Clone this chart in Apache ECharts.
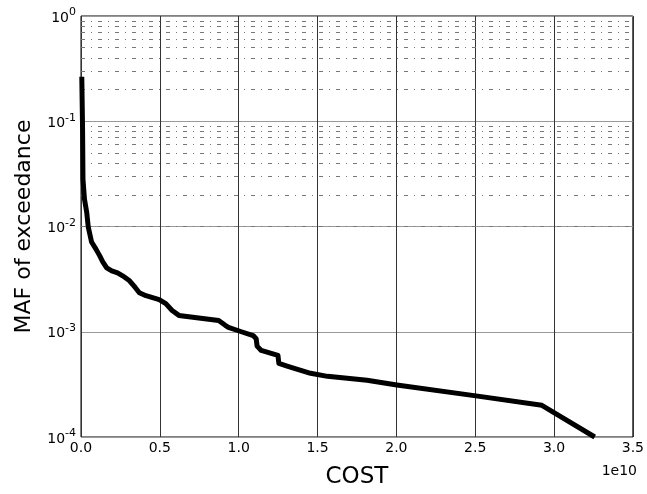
<!DOCTYPE html>
<html>
<head>
<meta charset="utf-8">
<script src="https://cdn.jsdelivr.net/npm/echarts@6/dist/echarts.min.js"></script>
<style>
  html, body { margin: 0; padding: 0; background: #fff; }
  #chart { width: 647px; height: 494px; }
</style>
</head>
<body>
<div id="chart"></div>
<script>
// cost in units of 1e10, MAF of exceedance
const cost = [0.005, 0.01, 0.0125, 0.022, 0.036, 0.046, 0.067, 0.094, 0.119, 0.138,
  0.163, 0.195, 0.232, 0.264, 0.308, 0.345, 0.37, 0.412, 0.496, 0.538,
  0.578, 0.621, 0.873, 0.915, 0.935, 1.017, 1.092, 1.111, 1.117, 1.143,
  1.249, 1.255, 1.312, 1.456, 1.563, 1.814, 2.003, 2.505, 2.923, 3.258];
const maf = [0.265, 0.0836, 0.0281, 0.0182, 0.0137, 0.00989, 0.00713, 0.00613, 0.00526, 0.00462,
  0.00405, 0.00379, 0.00363, 0.0034, 0.00305, 0.00262, 0.00235, 0.0022, 0.00202, 0.00185,
  0.00159, 0.00143, 0.00128, 0.00115, 0.0011, 0.001, 0.00092, 0.00086, 0.00073, 0.000665,
  0.000596, 0.0005, 0.000469, 0.000403, 0.000377, 0.000346, 0.000312, 0.000246, 0.0002, 0.0001];

const xTicks = [0, 0.5, 1.0, 1.5, 2.0, 2.5, 3.0, 3.5];
const decades = [1e-4, 1e-3, 1e-2, 1e-1];
const minorSteps = [2, 3, 4, 5, 6, 7, 8, 9];

const minorLines = [];
decades.forEach(d => minorSteps.forEach(m => minorLines.push({ yAxis: d * m })));

const chart = echarts.init(document.getElementById('chart'));
const font = 'DejaVu Sans';

chart.setOption({
  animation: false,
  backgroundColor: '#fff',
  grid: { left: 81, right: 9, top: 16, bottom: 55, show: true, borderColor: '#000', borderWidth: 1, backgroundColor: 'transparent' },
  xAxis: {
    type: 'value',
    min: 0, max: 3.5e10, interval: 0.5e10,
    name: 'COST', nameLocation: 'middle', nameGap: 29,
    nameTextStyle: { fontFamily: font, fontSize: 23, color: '#000' },
    axisLine: { show: false },
    axisTick: { show: false },
    axisLabel: { fontFamily: font, fontSize: 14, color: '#000', margin: 4,
      formatter: v => (v / 1e10).toFixed(1) },
    splitLine: { show: true, lineStyle: { color: '#333', width: 1 } }
  },
  yAxis: {
    type: 'log', logBase: 10, min: 1e-4, max: 1,
    name: 'MAF of exceedance', nameLocation: 'middle', nameGap: 46,
    nameTextStyle: { fontFamily: font, fontSize: 22, color: '#000' },
    axisLine: { show: false },
    axisTick: { show: false },
    axisLabel: {
      margin: 5,
      formatter: v => '{b|10}{s|' + Math.round(Math.log10(v)) + '}',
      rich: {
        b: { fontFamily: font, fontSize: 14, color: '#000', lineHeight: 18, verticalAlign: 'bottom' },
        s: { fontFamily: font, fontSize: 11, color: '#000', lineHeight: 18, verticalAlign: 'top' }
      }
    },
    splitLine: { show: true, lineStyle: { color: '#999', width: 1 } }
  },
  graphic: [{
    type: 'text', right: 10, top: 464,
    style: { text: '1e10', fontFamily: font, fontSize: 14, fill: '#000' }
  }],
  series: [{
    type: 'line',
    data: cost.map((c, i) => [c * 1e10, maf[i]]),
    symbol: 'none',
    lineStyle: { color: '#000', width: 5, join: 'round' },
    z: 5,
    markLine: {
      silent: true, symbol: 'none', label: { show: false },
      lineStyle: { color: '#777', width: 1, type: [4, 6, 1, 6] },
      data: minorLines
    }
  }]
});
</script>
</body>
</html>
